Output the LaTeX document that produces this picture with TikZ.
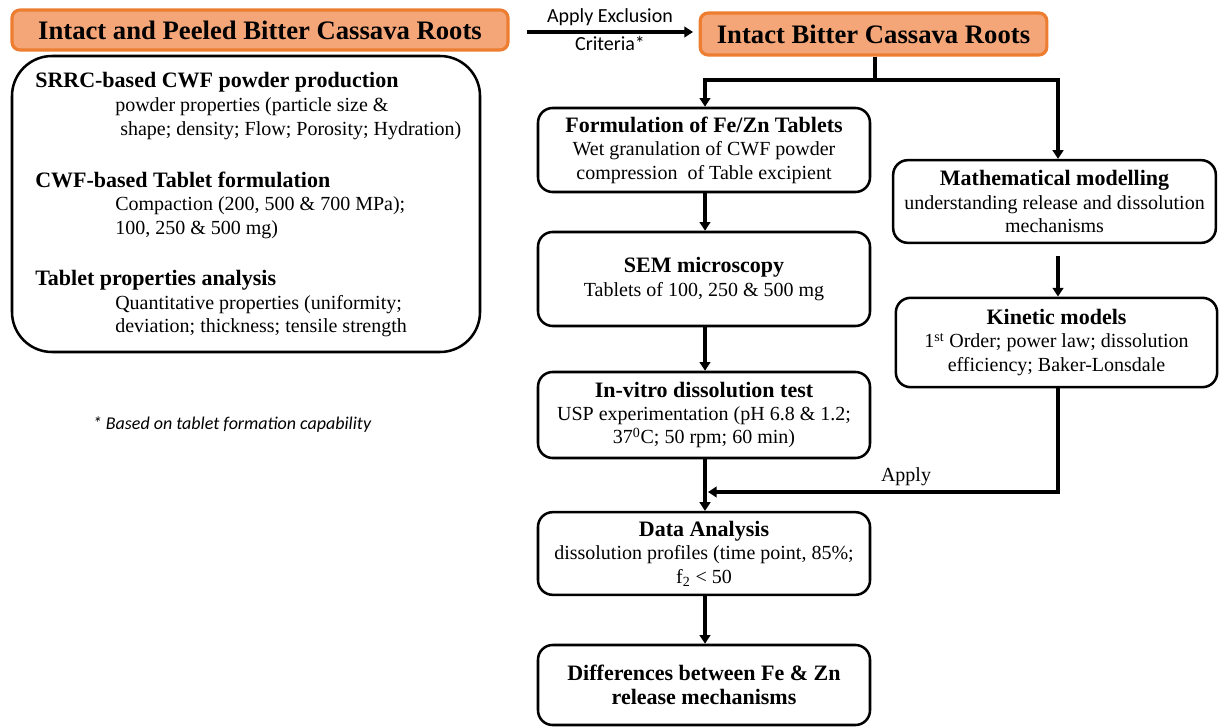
\documentclass[tikz,border=0pt]{standalone}
\usepackage{fontspec}
\setmainfont{Liberation Serif}
\newfontfamily\calibrifont{Carlito}
\usetikzlibrary{arrows.meta,calc}
\definecolor{orangeB}{RGB}{237,125,49}
\definecolor{orangeF}{RGB}{244,166,120}
\newcommand{\bodyf}{\fontsize{15}{17.6}\selectfont}
\newcommand{\headf}{\fontsize{16.5}{17.6}\selectfont\bfseries}
\tikzset{
  box/.style={draw, line width=1.9pt, rounded corners=11pt, align=center, inner sep=2pt, font=\bodyf,
     minimum width=249pt},
  obox/.style={draw=orangeB, fill=orangeF, line width=2.4pt, rounded corners=6pt,
     font=\fontsize{20}{22}\selectfont\bfseries, inner sep=0pt},
  conn/.style={line width=3pt},
  arr/.style={line width=3pt, -{Triangle[width=8pt,length=6.5pt]}},
  ltxt/.style={anchor=west, font=\bodyf, inner sep=0pt},
  lhead/.style={anchor=west, font=\headf, inner sep=0pt},
  ctxt/.style={font=\calibrifont\fontsize{15}{17}\selectfont, inner sep=0pt}
}
\begin{document}
\begin{tikzpicture}[x=0.75pt,y=-0.75pt]
\useasboundingbox (0,0) rectangle (1219,727);

% top left title
\node[obox, minimum width=372pt, minimum height=30pt] (title1) at (260,30) {Intact and Peeled Bitter Cassava Roots};
% left big box
\node[draw, line width=1.9pt, rounded corners=30pt, minimum width=351pt, minimum height=222pt] (leftbox) at (246,204) {};
\node[lhead] (l1) at (35,82) {SRRC-based CWF powder production};
\node[ltxt] (l2) at (115,107) {powder properties (particle size \&};
\node[ltxt] (l3) at (120,131) {shape; density; Flow; Porosity; Hydration)};
\node[lhead] (l4) at (35,180) {CWF-based Tablet formulation};
\node[ltxt] (l5) at (115,206) {Compaction (200, 500 \& 700 MPa);};
\node[ltxt] (l6) at (115,230) {100, 250 \& 500 mg)};
\node[lhead] (l7) at (35,280) {Tablet properties analysis};
\node[ltxt] (l8) at (115,305) {Quantitative properties (uniformity;};
\node[ltxt] (l9) at (115,328) {deviation; thickness; tensile strength};

\node[inner sep=0pt, font=\calibrifont\itshape\fontsize{13.5}{15}\selectfont] (foot) at (232,425) {* Based on tablet formation capability};

% right title
\node[obox, minimum width=260pt, minimum height=31.5pt] (intact) at (873.5,34) {Intact Bitter Cassava Roots};

\coordinate (a1) at (527,32);
\coordinate (a2) at (693,32);
\draw[arr] (a1) -- (a2);
\node[ctxt] (ex1) at (610,17) {Apply Exclusion};
\node[ctxt] (ex2) at (610,43) {Criteria*};

% left column
\node[box, minimum height=63pt] (form) at (704,150) {{\headf Formulation of Fe/Zn Tablets}\\Wet granulation of CWF powder\\compression\ \ of Table excipient};
\node[box, minimum height=70.5pt] (sem) at (704,279) {{\headf SEM microscopy}\\Tablets of 100, 250 \& 500 mg};
\node[box, minimum height=64.5pt] (invitro) at (704,415) {{\headf In-vitro dissolution test}\\USP experimentation (pH 6.8 \& 1.2;\\37\textsuperscript{0}C; 50 rpm; 60 min)};
\node[box, minimum height=62pt] (data) at (704,553.5) {{\headf Data Analysis}\\dissolution profiles (time point, 85\%;\\f\textsubscript{2} < 50};
\node[box, minimum height=60pt, font=\headf] (diff) at (704,685) {Differences between Fe \& Zn\\release mechanisms};

% right column
\node[box, minimum width=242pt, minimum height=62pt] (math) at (1054.5,201.5) {{\headf Mathematical modelling}\\understanding release and dissolution\\mechanisms};
\node[box, minimum width=241pt, minimum height=67pt] (kin) at (1056.5,342.5) {{\headf Kinetic models}\\1\textsuperscript{st} Order; power law; dissolution\\efficiency; Baker-Lonsdale};

% branch
\coordinate (j0) at (875,80);
\coordinate (jl) at (705,80);
\coordinate (jr) at (1058,80);
\draw[conn] (intact.south -| j0) -- (j0);
\draw[conn, line cap=rect] (jl) -- (jr);
\draw[arr] (jl) -- (jl |- form.north);
\draw[arr] (jr) -- (jr |- math.north);

\draw[arr] (form.south -| jl) -- (jl |- sem.north);
\draw[arr] (sem.south -| jl) -- (jl |- invitro.north);
\draw[arr] (invitro.south -| jl) -- (jl |- data.north);
\draw[arr] (data.south -| jl) -- (jl |- diff.north);

\draw[arr, shorten <=9pt] (math.south -| jr) -- (jr |- kin.north);

\coordinate (ap) at (1058,492);
\draw[arr] (kin.south -| ap) -- (ap) -- (708,492);
\node[font=\bodyf, inner sep=0pt] (applylbl) at (906,477) {Apply};
\end{tikzpicture}
\end{document}
